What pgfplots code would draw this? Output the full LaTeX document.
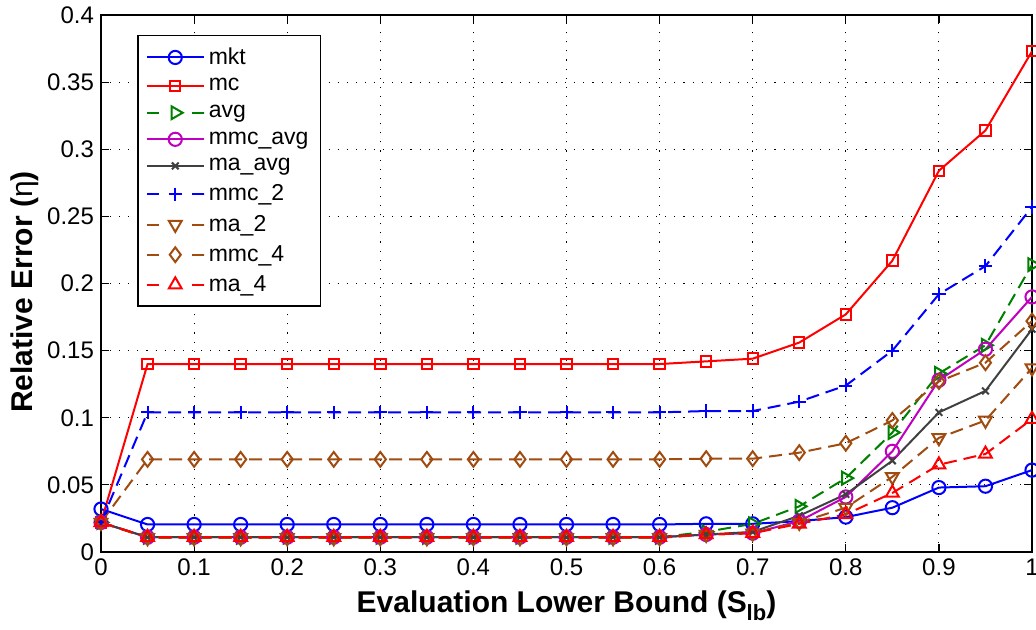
\documentclass[border=0pt]{standalone}
\usepackage{fontspec}
\setmainfont{Liberation Sans}
\usepackage{pgfplots}
\usepackage{pgfplotstable}
\pgfplotsset{compat=1.18}

\definecolor{cBlue}{RGB}{0,0,255}
\definecolor{cRed}{RGB}{255,0,0}
\definecolor{cGreen}{RGB}{0,128,0}
\definecolor{cMag}{RGB}{191,0,191}
\definecolor{cGray}{RGB}{64,64,64}
\definecolor{cBrown}{RGB}{160,75,15}

% relative error of each estimator against the evaluation lower bound
\pgfplotstableread{
x    mkt    mc     avg    mmcavg maavg  mmctwo matwo  mmcfour mafour
0    0.032  0.022  0.022  0.022  0.022  0.022  0.022  0.022   0.022
0.05 0.0205 0.140  0.011  0.011  0.011  0.104  0.0105 0.069   0.011
0.10 0.0205 0.140  0.011  0.011  0.011  0.104  0.0105 0.069   0.011
0.15 0.0205 0.140  0.011  0.011  0.011  0.104  0.0105 0.069   0.011
0.20 0.0205 0.140  0.011  0.011  0.011  0.104  0.0105 0.069   0.011
0.25 0.0205 0.140  0.011  0.011  0.011  0.104  0.0105 0.069   0.011
0.30 0.0205 0.140  0.011  0.011  0.011  0.104  0.0105 0.069   0.011
0.35 0.0205 0.140  0.011  0.011  0.011  0.104  0.0105 0.069   0.011
0.40 0.0205 0.140  0.011  0.011  0.011  0.104  0.0105 0.069   0.011
0.45 0.0205 0.140  0.011  0.011  0.011  0.104  0.0105 0.069   0.011
0.50 0.0205 0.140  0.011  0.011  0.011  0.104  0.0105 0.069   0.011
0.55 0.0205 0.140  0.011  0.011  0.011  0.104  0.0105 0.069   0.011
0.60 0.0205 0.140  0.011  0.011  0.011  0.104  0.0105 0.069   0.011
0.65 0.021  0.142  0.015  0.013  0.013  0.105  0.013  0.0695  0.013
0.70 0.021  0.144  0.021  0.014  0.015  0.105  0.014  0.0695  0.014
0.75 0.023  0.156  0.034  0.023  0.027  0.112  0.022  0.074   0.021
0.80 0.026  0.177  0.055  0.041  0.043  0.124  0.033  0.081   0.028
0.85 0.033  0.217  0.089  0.075  0.068  0.150  0.056  0.098   0.044
0.90 0.048  0.284  0.133  0.128  0.104  0.192  0.085  0.127   0.065
0.95 0.049  0.314  0.154  0.151  0.120  0.213  0.098  0.141   0.073
1.00 0.061  0.373  0.214  0.190  0.166  0.257  0.137  0.172   0.099
}\errtable

\pgfplotsset{
  dashleg/.style={
    dash pattern=on 6.5pt off 3.5pt,
    mark options={solid},
    legend image code/.code={
      \draw[dash pattern=on 6pt off 16.5pt on 6pt off 0pt,mark=none] (0pt,0pt) -- (28.5pt,0pt);
      \draw[solid] plot coordinates {(14.25pt,0pt)};
    }
  }
}

\begin{document}
\begin{tikzpicture}
\useasboundingbox (-50.5pt,-39pt) rectangle (467.5pt,276pt);
\begin{axis}[
  scale only axis,
  width=465.5pt, height=268.5pt,
  xmin=0, xmax=1, ymin=0, ymax=0.4,
  xtick={0,0.1,0.2,0.3,0.4,0.5,0.6,0.7,0.8,0.9,1},
  xticklabels={0,0.1,0.2,0.3,0.4,0.5,0.6,0.7,0.8,0.9,1},
  ytick={0,0.05,0.1,0.15,0.2,0.25,0.3,0.35,0.4},
  yticklabels={0,0.05,0.1,0.15,0.2,0.25,0.3,0.35,0.4},
  tick label style={font=\fontsize{12}{14}\selectfont},
  /pgf/number format/assume math mode=true,
  grid=major,
  major grid style={black, line width=0.55pt, dash pattern=on 0.55pt off 4pt},
  axis line style={black, line width=0.75pt},
  every tick/.style={black, line width=0.6pt},
  major tick length=4pt,
  tick align=inside,
  xlabel={Evaluation Lower Bound (S\raisebox{-0.55ex}{\fontsize{11}{11}\selectfont lb})},
  ylabel={Relative Error (\textmd{η})},
  label style={font=\fontsize{15}{18}\selectfont\bfseries},
  xlabel style={at={(axis description cs:0.5,-0.112)}, anchor=base},
  ylabel style={at={(axis description cs:-0.0816,0.484)}, anchor=center},
  legend style={
    at={(rel axis cs:0.0387,0.963)}, anchor=north west,
    draw=black, line width=0.75pt, fill=white,
    font=\fontsize{11.5}{13}\selectfont,
    row sep=1.6pt, inner xsep=4pt, inner ysep=4pt,
    cells={anchor=west},
  },
  legend image post style={line width=1pt},
  legend image code/.code={
    \draw[mark repeat=2,mark phase=2] plot coordinates {(0pt,0pt) (14.25pt,0pt) (28.5pt,0pt)};
  },
  every axis plot/.append style={line width=1pt},
]
\addplot[cBlue, mark=o, mark size=3.3pt] table[x=x,y=mkt] {\errtable};
\addlegendentry{mkt}
\addplot[cRed, mark=square, mark size=2.6pt] table[x=x,y=mc] {\errtable};
\addlegendentry{mc}
\addplot[cGreen, dashleg, mark=triangle, mark size=3.7pt, mark options={solid, rotate=-90}] table[x=x,y=avg] {\errtable};
\addlegendentry{avg}
\addplot[cMag, mark=o, mark size=3.3pt] table[x=x,y=mmcavg] {\errtable};
\addlegendentry{mmc\_avg}
\addplot[cGray, mark=x, mark size=2.4pt] table[x=x,y=maavg] {\errtable};
\addlegendentry{ma\_avg}
\addplot[cBlue, dashleg, mark=+, mark size=3.3pt] table[x=x,y=mmctwo] {\errtable};
\addlegendentry{mmc\_2}
\addplot[cBrown, dashleg, mark=triangle, mark size=3.7pt, mark options={solid, rotate=180}] table[x=x,y=matwo] {\errtable};
\addlegendentry{ma\_2}
\addplot[cBrown, dashleg, mark=diamond, mark size=3.7pt] table[x=x,y=mmcfour] {\errtable};
\addlegendentry{mmc\_4}
\addplot[cRed, dashleg, mark=triangle, mark size=3.7pt] table[x=x,y=mafour] {\errtable};
\addlegendentry{ma\_4}
\end{axis}
\end{tikzpicture}
\end{document}
